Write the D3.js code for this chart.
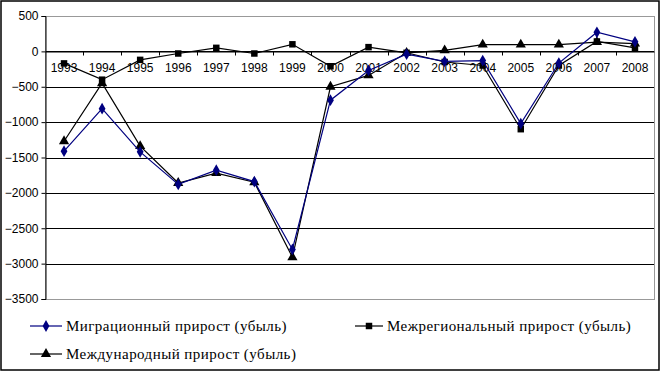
<!DOCTYPE html>
<html><head><meta charset="utf-8">
<script src="https://cdn.jsdelivr.net/npm/d3@7"></script>
<style>body{margin:0;background:#fff}svg{display:block}</style>
</head><body><svg id="c" width="661" height="372"></svg>
<script>
const years = ["1993","1994","1995","1996","1997","1998","1999","2000","2001","2002","2003","2004","2005","2006","2007","2008"];
const migration = [-1410,-810,-1420,-1880,-1680,-1840,-2800,-690,-270,-40,-140,-130,-1020,-165,270,135];
const interregional = [-170,-400,-120,-30,50,-30,100,-210,60,-20,-150,-200,-1100,-200,140,50];
const international = [-1270,-450,-1340,-1860,-1720,-1850,-2910,-500,-340,-20,15,95,95,95,130,110];
const yTicks = [500,0,-500,-1000,-1500,-2000,-2500,-3000,-3500];
const seriesNames = ["Миграционный прирост (убыль)","Межрегиональный прирост (убыль)","Международный прирост (убыль)"];

const svg = d3.select("#c");
const L=45, R=654, T=16, B=299;
const x = d3.scaleBand().domain(years).range([L,R]);
const y = d3.scaleLinear().domain([-3500,500]).range([B,T]);

svg.append("rect").attr("x",1).attr("y",1).attr("width",658).attr("height",369)
  .attr("fill","#fff").attr("stroke","#000").attr("stroke-width",1.5);

svg.append("g").selectAll("line").data(yTicks).join("line")
  .attr("x1",L).attr("x2",R).attr("y1",d=>Math.round(y(d))+0.5).attr("y2",d=>Math.round(y(d))+0.5)
  .attr("stroke","#000").attr("stroke-width",1);
svg.append("rect").attr("x",L+0.5).attr("y",Math.round(y(500))+0.5).attr("width",R-L).attr("height",Math.round(y(-3500))-Math.round(y(500)))
  .attr("fill","none").attr("stroke","#999").attr("stroke-width",1);

const yAxis = svg.append("g").attr("transform",`translate(${L+0.5},0)`)
  .call(d3.axisLeft(y).tickValues(yTicks).tickSize(4).tickPadding(3).tickFormat(d3.format("d")));
yAxis.select(".domain").attr("stroke","#000");
yAxis.selectAll("text").attr("font-family","Liberation Sans, Arial, sans-serif").attr("font-size",12).attr("fill","#000");

const y0 = Math.round(y(0))+0.5;
const xAxis = svg.append("g").attr("transform",`translate(0,${y0})`)
  .call(d3.axisBottom(x).tickSize(0).tickPadding(12));
xAxis.select(".domain").attr("stroke","#000");
xAxis.selectAll("text").attr("font-family","Liberation Sans, Arial, sans-serif").attr("font-size",12).attr("fill","#000");
svg.append("g").selectAll("line").data(years.slice(1)).join("line")
  .attr("x1",d=>Math.round(x(d))+0.5).attr("x2",d=>Math.round(x(d))+0.5)
  .attr("y1",y0).attr("y2",y0+4).attr("stroke","#000");

const cx = d=>x(d)+x.bandwidth()/2;
const line = d3.line().x((d,i)=>cx(years[i])).y(d=>y(d));

const series = [
  {vals: migration, color:"#000080", sym:d3.symbolDiamond, size:40},
  {vals: interregional, color:"#000", sym:d3.symbolSquare, size:42},
  {vals: international, color:"#000", sym:d3.symbolTriangle, size:45}
];
[series[2],series[1],series[0]].forEach(s=>{
  svg.append("path").datum(s.vals).attr("d",line).attr("fill","none").attr("stroke",s.color).attr("stroke-width",1.2);
  svg.append("g").selectAll("path").data(s.vals).join("path")
    .attr("transform",(d,i)=>`translate(${cx(years[i])},${y(d)})`)
    .attr("d",d3.symbol().type(s.sym).size(s.size)).attr("fill",s.color);
});

const leg = [
  {x:30, y:326, w:32, s:series[0], name:seriesNames[0]},
  {x:355, y:326, w:28, s:series[1], name:seriesNames[1]},
  {x:30, y:354, w:32, s:series[2], name:seriesNames[2]}
];
leg.forEach(l=>{
  const g = svg.append("g");
  g.append("line").attr("x1",l.x).attr("x2",l.x+l.w).attr("y1",l.y).attr("y2",l.y).attr("stroke",l.s.color).attr("stroke-width",1.2);
  g.append("path").attr("transform",`translate(${l.x+l.w/2},${l.y})`).attr("d",d3.symbol().type(l.s.sym).size(l.s.size)).attr("fill",l.s.color);
  g.append("text").attr("x",l.x+l.w+4).attr("y",l.y+5).attr("font-family","Liberation Serif, Times New Roman, serif")
    .attr("font-size",15).attr("letter-spacing",0.45).attr("fill","#000").text(l.name);
});
</script></body></html>
